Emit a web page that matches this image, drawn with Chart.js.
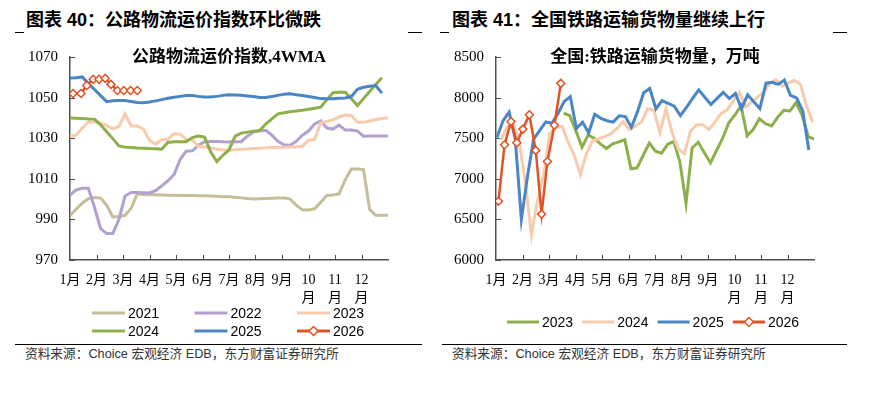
<!DOCTYPE html>
<html lang="zh">
<head>
<meta charset="utf-8">
<script src="https://cdn.jsdelivr.net/npm/chart.js@4.4.1/dist/chart.umd.min.js"></script>
<style>
    body { margin: 0; width: 878px; height: 399px; position: relative; overflow: hidden; background: #fff;
           font-family: "Liberation Sans", "Noto Sans CJK SC", sans-serif; }
    .head { position: absolute; top: 10px; font-size: 18px; font-weight: bold; line-height: 20px; white-space: nowrap; color: #000; }
    .dash, .rule { position: absolute; height: 1px; background: #000; }
    .box { position: absolute; top: 36px; height: 306px; }
    .source { position: absolute; top: 346px; font-size: 12.7px; line-height: 16px; color: #333; white-space: nowrap; }
</style>
</head>
<body>

<div class="head" style="left:26px">图表 40：公路物流运价指数环比微跌</div>
<div class="dash" style="left:15px; top:32px; width:9px"></div>
<div class="dash" style="left:408px; top:32px; width:14px"></div>
<div class="box" style="left:0; width:440px"><canvas id="road_chart"></canvas></div>
<div class="rule" style="left:15px; top:344px; width:407px"></div>
<div class="source" style="left:25px">资料来源：Choice 宏观经济 EDB，东方财富证券研究所</div>

<div class="head" style="left:452px">图表 41：全国铁路运输货物量继续上行</div>
<div class="dash" style="left:440px; top:32px; width:9px"></div>
<div class="dash" style="left:833px; top:32px; width:14px"></div>
<div class="box" style="left:440px; width:438px"><canvas id="rail_chart"></canvas></div>
<div class="rule" style="left:442px; top:344px; width:405px"></div>
<div class="source" style="left:452px">资料来源：Choice 宏观经济 EDB，东方财富证券研究所</div>

<script>
var month_labels = ['1月', '2月', '3月', '4月', '5月', '6月', '7月', '8月', '9月',
    ['10', '月'], ['11', '月'], ['12', '月'], ''];

/*
############################## Road freight index, 4WMA (weekly) ##############################
*/
var road_years = ['2021', '2022', '2023', '2024', '2025', '2026'];
var road_2021 = [992, 995, 998, 1000.2, 1000.8, 1000.5, 997, 991.2, 991.4, 992, 995.5, 1002.5, 1002.3,
    1002.2, 1002.1, 1002.0, 1001.9, 1001.9, 1001.8, 1001.8, 1001.8, 1001.7, 1001.6, 1001.5, 1001.4, 1001.2, 1001.1,
    1000.9, 1000.6, 1000.3, 1000.1, 1000.2, 1000.3, 1000.4, 1000.5, 1000.6, 1000, 997, 994.7, 994.6, 995.2, 998.5,
    1001.8, 1002, 1002.6, 1009.5, 1014.8, 1014.8, 1014.5, 995, 992, 992, 992];
var road_2022 = [1002, 1004.5, 1005.3, 1005.3, 996, 985.5, 983, 983, 990, 1001.5, 1003.3, 1003.2, 1003.1,
    1003, 1004.2, 1006.5, 1009, 1012, 1019.5, 1023.6, 1023.8, 1026.5, 1028.3, 1028.4, 1028.4, 1028.2, 1028.1,
    1028.2, 1028.3, 1031, 1033, 1033.5, 1033.9, 1031.5, 1028.5, 1026.8, 1026.5, 1028.5, 1031.5, 1033.5, 1037,
    1038.5, 1035, 1034.5, 1036.5, 1034, 1034, 1033.5, 1031, 1031.1, 1031.1, 1031.1, 1031.1];
var road_2023 = [1031, 1031.5, 1035, 1038, 1038, 1037.5, 1036.2, 1034.6, 1035.8, 1042, 1036, 1036, 1034.5,
    1029, 1027, 1029.3, 1029.5, 1032.2, 1032, 1029.5, 1029.3, 1026, 1025.7, 1025.3, 1024.5, 1024.2, 1024.2,
    1024.3, 1024.5, 1024.7, 1024.9, 1025.1, 1025.3, 1025.4, 1025.5, 1025.6, 1025.7, 1025.8, 1026, 1029, 1029.3,
    1037.5, 1038.3, 1039, 1040.5, 1041.4, 1041.2, 1037.8, 1037.8, 1038.5, 1039.2, 1039.7, 1040.1];
var road_2024 = [1040, 1039.8, 1039.7, 1039.5, 1039.4, 1036.6, 1033.2, 1029.8, 1026.2, 1025.6,
    1025.4, 1025.2, 1025.1, 1024.9, 1024.8, 1024.6, 1027.9, 1028.3, 1028.3, 1028.3,
    1030.3, 1031.1, 1030.5, 1023.3, 1018.5, 1021.6, 1024.2, 1031, 1032.5, 1033,
    1033.4, 1033.8, 1037, 1039.5, 1042, 1042.5, 1043, 1043.4, 1043.8, 1044.3,
    1044.8, 1045.3, 1049, 1052.4, 1052.6, 1052.6, 1049.5, 1046, 1049.5, 1053, 1056.5, 1059.8];
var road_2025 = [1059.7, 1059.8, 1060.2, 1057, 1054, 1051, 1048, 1048.4, 1048.6, 1048.6,
    1048.1, 1047.6, 1047.5, 1047.8, 1048.4, 1049, 1049.7, 1050.2, 1050.6, 1051,
    1051, 1050.6, 1050.3, 1050.3, 1050.6, 1051.1, 1051.4, 1051.3, 1051.1, 1050.8,
    1050.5, 1050, 1050, 1050.5, 1051.1, 1051.7, 1051.9, 1051.4, 1051, 1050.5,
    1050, 1049.5, 1049.4, 1049.4, 1049.7, 1049.8, 1050.5, 1054.1, 1055.1, 1055.6, 1055.9, 1052.2];
var road_2026_weeks = [0.5, 1.8, 2.75, 3.8, 4.75, 5.75, 6.7, 7.75, 8.8, 9.9, 11];
var road_2026 = [1052, 1052, 1056, 1059, 1059, 1059.5, 1056.5, 1053.5, 1053.5, 1053.5, 1053.5];
var road_ticks = [970, 990, 1010, 1030, 1050, 1070];

/*
############################## Railway freight volume, 10k tons (weekly) ##############################
*/
var rail_years = ['2023', '2024', '2025', '2026'];
var rail_2023_first_week = 11.07;
var rail_2023 = [7810, 7778, 7590, 7389, 7540, 7500, 7430, 7373, 7430, 7455, 7480, 7123, 7135, 7290,
    7440, 7340, 7315, 7425, 7460, 7205, 6695, 7381, 7450, 7320, 7195, 7350, 7500, 7690, 7786, 7900,
    7530, 7610, 7738, 7678, 7650, 7760, 7843, 7835, 7937, 7780, 7518, 7488];
var rail_2024_first_week = 0.8;
var rail_2024 = [7480, 7640, 7700, 7460, 6950, 6310, 6740, 7050, 7560, 7627,
    7647, 7448, 7290, 7052, 7310, 7468, 7490, 7520, 7556, 7620,
    7706, 7607, 7650, 7700, 7865, 7845, 7568, 7865, 7568, 7369,
    7310, 7587, 7667, 7667, 7607, 7698, 7806, 7850, 7960, 8063,
    7885, 7944, 8010, 8071, 8175, 8222, 8140, 8180, 8210, 8163, 7890, 7698];
var rail_2025_first_week = 0.15;
var rail_2025 = [7510, 7714, 7820, 7490, 6500, 7030, 7490, 7595, 7700, 7685,
    7806, 7952, 8012, 7620, 7698, 7567, 7794, 7745, 7715, 7698,
    7775, 7766, 7635, 7830, 8060, 8112, 7860, 7964, 7930, 7895,
    7778, 7880, 7990, 8095, 8005, 7915, 7990, 8065, 7988, 8050,
    7865, 8034, 7950, 7865, 8178, 8188, 8163, 8216, 8028, 7996, 7840, 7355];
var rail_2026_weeks = [0.4, 1.4, 2.45, 3.4, 4.4, 5.45, 6.5, 7.45, 8.4, 9.55, 10.6];
var rail_2026 = [6725, 7420, 7705, 7445, 7612, 7788, 7350, 6565, 7212, 7659, 8175];
var rail_ticks = [6000, 6500, 7000, 7500, 8000, 8500];

var axis_color = '#505050';
var colors = {
    olive: '#C5BE98', lilac: '#B2A1CF', peach: '#F8CBAD',
    green: '#8DB04C', blue: '#4A86C6', red: '#DF5327'
};

/*
############################## Plugins ##############################
*/
var inner_title = {
    id: 'innerTitle',
    afterDraw(chart, args, opts) {
        const ctx = chart.ctx, area = chart.chartArea;
        ctx.save();
        ctx.font = opts.font;
        ctx.fillStyle = '#000';
        ctx.textAlign = 'center';
        ctx.textBaseline = 'middle';
        ctx.fillText(opts.text, (area.left + area.right) / 2, area.top + opts.offset);
        ctx.restore();
    }
};

// tick marks that point into the plot, like the spreadsheet original
var inward_ticks = {
    id: 'inwardTicks',
    beforeDatasetsDraw(chart, args, opts) {
        const ctx = chart.ctx, area = chart.chartArea;
        const xs = chart.scales.x, ys = chart.scales.y;
        ctx.save();
        ctx.strokeStyle = axis_color;
        ctx.lineWidth = 1;
        ctx.beginPath();
        xs.ticks.forEach((t, i) => {
            if (i === 0 || i === xs.ticks.length - 1) return;
            const px = Math.round(xs.getPixelForValue(t.value)) + 0.5;
            ctx.moveTo(px, area.bottom);
            ctx.lineTo(px, area.bottom - opts.length);
        });
        ys.ticks.forEach(t => {
            const py = Math.round(ys.getPixelForValue(t.value)) + 0.5;
            ctx.moveTo(area.left, py);
            ctx.lineTo(area.left + opts.length, py);
        });
        ctx.stroke();
        ctx.restore();
    }
};

// legend laid out in fixed columns, with a line sample (and diamond for marker series)
var grid_legend = {
    id: 'gridLegend',
    afterDraw(chart, args, opts) {
        const ctx = chart.ctx;
        ctx.save();
        ctx.font = opts.font;
        ctx.textBaseline = 'middle';
        chart.data.datasets.forEach((ds, i) => {
            const x = opts.left + (i % opts.columns) * opts.columnWidth;
            const y = opts.top + Math.floor(i / opts.columns) * opts.rowHeight;
            ctx.strokeStyle = ds.borderColor;
            ctx.lineWidth = 3;
            ctx.beginPath();
            ctx.moveTo(x, y);
            ctx.lineTo(x + opts.lineLength, y);
            ctx.stroke();
            if (ds.pointRadius) {
                const cx = x + opts.lineLength / 2, r = ds.pointRadius + 0.5;
                ctx.beginPath();
                ctx.moveTo(cx - r, y);
                ctx.lineTo(cx, y - r);
                ctx.lineTo(cx + r, y);
                ctx.lineTo(cx, y + r);
                ctx.closePath();
                ctx.fillStyle = '#fff';
                ctx.fill();
                ctx.lineWidth = 1.5;
                ctx.stroke();
            }
            ctx.fillStyle = '#000';
            ctx.fillText(ds.label, x + opts.lineLength + 3, y + 1);
        });
        ctx.restore();
    }
};

/*
############################## Datasets ##############################
*/
function weekly_points(values, first_week) {
    return values.map((v, i) => ({ x: first_week + i, y: v }));
}

function placed_points(weeks, values) {
    return values.map((v, i) => ({ x: weeks[i], y: v }));
}

function line_dataset(label, color, points, order) {
    return {
        label: label,
        data: points,
        borderColor: color,
        backgroundColor: color,
        borderWidth: 3,
        pointRadius: 0,
        tension: 0,
        order: order
    };
}

function marker_dataset(label, color, points) {
    let ds = line_dataset(label, color, points, 0);
    ds.borderWidth = 2.5;
    ds.pointStyle = 'rectRot';
    ds.pointRadius = 4;
    ds.pointBorderWidth = 1.5;
    ds.pointBackgroundColor = '#ffffff';
    ds.pointBorderColor = color;
    return ds;
}

/*
############################## Charts ##############################
*/
function draw_week_chart(canvas, datasets, frame) {
    return new Chart(canvas, {
        type: 'line',
        data: { datasets: datasets },
        options: {
            responsive: true,
            maintainAspectRatio: false,
            animation: false,
            events: [],
            layout: { padding: { left: 0, right: frame.right, top: 14, bottom: 0 } },
            scales: {
                x: {
                    type: 'linear',
                    min: 0,
                    max: 52,
                    afterBuildTicks: scale => {
                        scale.ticks = month_labels.map((_, m) => ({ value: m * 52 / 12 }));
                    },
                    afterFit: scale => { scale.height = 82; },
                    ticks: {
                        autoSkip: false,
                        maxRotation: 0,
                        padding: 12,
                        color: '#000',
                        font: { family: '"Liberation Serif", "Noto Sans CJK SC"', size: 14, lineHeight: 1.25 },
                        callback: (value, index) => month_labels[index]
                    },
                    grid: { display: false, drawTicks: false },
                    border: { display: true, color: axis_color, width: 1.5 }
                },
                y: {
                    min: frame.ticks[0],
                    max: frame.ticks[frame.ticks.length - 1],
                    afterBuildTicks: scale => {
                        scale.ticks = frame.ticks.map(v => ({ value: v }));
                    },
                    afterFit: scale => { scale.width = frame.axisWidth; },
                    ticks: {
                        padding: 12,
                        color: '#000',
                        font: { family: '"Liberation Serif"', size: 15 },
                        callback: value => String(value)
                    },
                    grid: { display: false, drawTicks: false },
                    border: { display: true, color: axis_color, width: 1.5 }
                }
            },
            plugins: {
                legend: { display: false },
                tooltip: { enabled: false },
                innerTitle: { text: frame.title, font: 'bold 17px "Liberation Serif", "Noto Sans CJK SC"', offset: 1 },
                inwardTicks: { length: 5 },
                gridLegend: frame.legend
            }
        },
        plugins: [inner_title, inward_ticks, grid_legend]
    });
}

function draw_road_chart() {
    var ctx = document.getElementById('road_chart');
    let n = road_years.length;
    let datasets = [
        line_dataset(road_years[0], colors.olive, weekly_points(road_2021, 0), n - 1),
        line_dataset(road_years[1], colors.lilac, weekly_points(road_2022, 0), n - 2),
        line_dataset(road_years[2], colors.peach, weekly_points(road_2023, 0), n - 3),
        line_dataset(road_years[3], colors.green, weekly_points(road_2024, 0), n - 4),
        line_dataset(road_years[4], colors.blue, weekly_points(road_2025, 0), n - 5),
        marker_dataset(road_years[5], colors.red, placed_points(road_2026_weeks, road_2026))
    ];
    return draw_week_chart(ctx, datasets, {
        title: '公路物流运价指数,4WMA',
        ticks: road_ticks,
        axisWidth: 70,
        right: 52,
        legend: { left: 92, top: 277, columns: 3, columnWidth: 102.5, rowHeight: 18, lineLength: 33,
                  font: '14px "Liberation Sans"' }
    });
}

function draw_rail_chart() {
    var ctx = document.getElementById('rail_chart');
    let n = rail_years.length;
    let datasets = [
        line_dataset(rail_years[0], colors.green, weekly_points(rail_2023, rail_2023_first_week), n - 1),
        line_dataset(rail_years[1], colors.peach, weekly_points(rail_2024, rail_2024_first_week), n - 2),
        line_dataset(rail_years[2], colors.blue, weekly_points(rail_2025, rail_2025_first_week), n - 3),
        marker_dataset(rail_years[3], colors.red, placed_points(rail_2026_weeks, rail_2026))
    ];
    return draw_week_chart(ctx, datasets, {
        title: '全国:铁路运输货物量，万吨',
        ticks: rail_ticks,
        axisWidth: 56,
        right: 64,
        legend: { left: 67, top: 286, columns: 4, columnWidth: 75.3, rowHeight: 18, lineLength: 32,
                  font: '14px "Liberation Sans"' }
    });
}

draw_road_chart();
draw_rail_chart();
</script>
</body>
</html>
